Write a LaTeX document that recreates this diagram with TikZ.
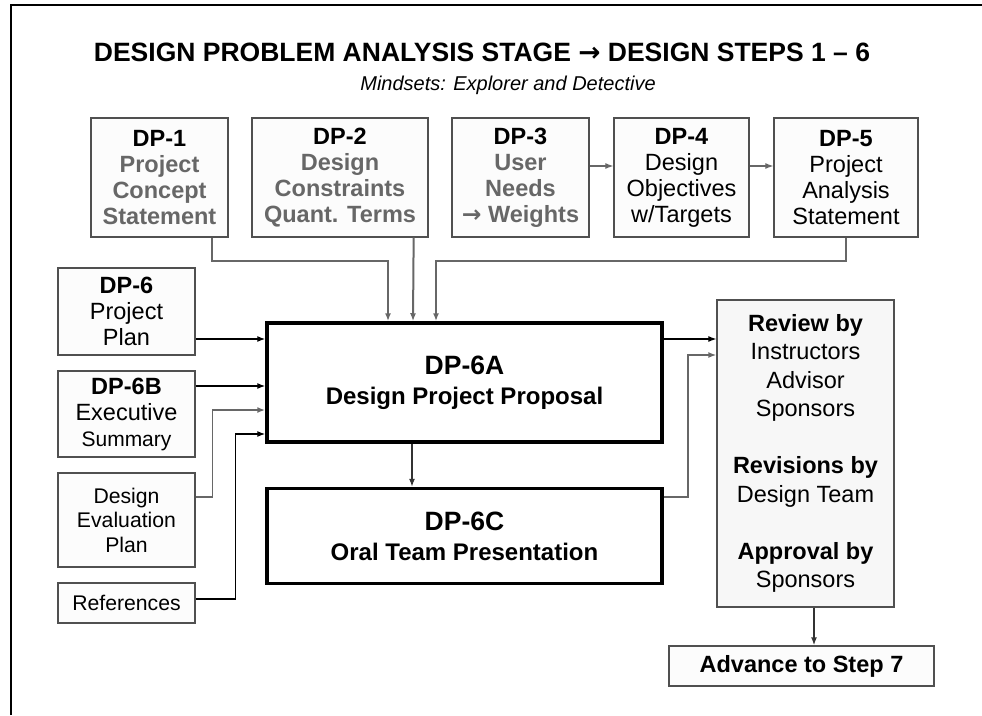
\documentclass[tikz,border=0pt]{standalone}
\usepackage{fontspec}
\setmainfont{Liberation Sans}
\newfontfamily\arrowfont{DejaVu Sans}
\usetikzlibrary{arrows.meta}

\definecolor{edgegray}{HTML}{505050}
\definecolor{textgray}{HTML}{676767}
\definecolor{boxfill}{HTML}{FCFCFC}
\newcommand{\grayline}[1]{\textcolor{textgray}{\textbf{#1}}}
\newcommand{\thickarrow}{{\arrowfont\bfseries →}}

\begin{document}
\begin{tikzpicture}[x=1pt, y=-1pt, >={Latex[length=8pt,width=6pt]},
    every node/.style={align=center, inner sep=0pt},
    stepbox/.style={draw=edgegray, line width=1.3pt, fill=boxfill,
      font=\fontsize{23.5}{26}\selectfont},
    mainbox/.style={draw=black, line width=3.5pt, fill=white,
      font=\bfseries\fontsize{24}{30}\selectfont},
    feed/.style={->, line width=1.2pt},
    grayfeed/.style={->, line width=2pt, draw=textgray}]
  \useasboundingbox (0,0) rectangle (982,715);

  % Marco
  \draw[line width=2.5pt] (11,715) -- (11,5) -- (982,5);

  % Titulo
  \node[font=\bfseries\fontsize{26.5}{30}\selectfont] (title) at (482,52)
    {DESIGN PROBLEM ANALYSIS STAGE \thickarrow{} DESIGN STEPS 1 – 6};
  \node[font=\itshape\fontsize{20}{24}\selectfont] (subtitle) at (508,85)
    {Mindsets: Explorer and Detective};

  % Pasos DP-1 a DP-5
  \node[stepbox, minimum width=137, minimum height=119] (dp1) at (159.5,177.5)
    {\textbf{DP-1}\\\grayline{Project}\\\grayline{Concept}\\\grayline{Statement}};
  \node[stepbox, minimum width=176, minimum height=119] (dp2) at (340,177.5)
    {\textbf{DP-2}\\\grayline{Design}\\\grayline{Constraints}\\\grayline{Quant. Terms}};
  \node[stepbox, minimum width=137, minimum height=119] (dp3) at (520.5,177.5)
    {\textbf{DP-3}\\\grayline{User}\\\grayline{Needs}\\\textcolor{textgray}{\thickarrow\ \textbf{Weights}}};
  \node[stepbox, minimum width=135, minimum height=119] (dp4) at (681.5,177.5)
    {\textbf{DP-4}\\Design\\Objectives\\w/Targets};
  \node[stepbox, minimum width=144, minimum height=119] (dp5) at (846,177.5)
    {\textbf{DP-5}\\Project\\Analysis\\Statement};

  % Entradas a la izquierda
  \node[stepbox, minimum width=137, minimum height=87] (dp6) at (126.5,311.5)
    {\textbf{DP-6}\\Project\\Plan};
  \node[stepbox, minimum width=137, minimum height=86] (dp6b) at (126.5,414)
    {\textbf{DP-6B}\\Executive\\{\fontsize{21}{24}\selectfont Summary}};
  \node[stepbox, minimum width=137, minimum height=94,
    font=\fontsize{21.2}{24.5}\selectfont] (evalplan) at (126.5,520)
    {Design\\Evaluation\\Plan};
  \node[stepbox, minimum width=137, minimum height=40,
    font=\fontsize{21.2}{24.5}\selectfont] (refs) at (126.5,603) {References};

  % Propuesta y presentacion
  \node[mainbox, minimum width=395, minimum height=119] (dp6a) at (464.5,382.5)
    {{\fontsize{26.5}{30}\selectfont DP-6A}\\Design Project Proposal};
  \node[mainbox, minimum width=395, minimum height=95] (dp6c) at (464.5,536)
    {{\fontsize{26.5}{30}\selectfont DP-6C}\\Oral Team Presentation};

  % Revision y avance
  \node[stepbox, minimum width=177, minimum height=307, fill=white!97!black,
    font=\fontsize{23.5}{28.5}\selectfont] (review) at (805.5,453.5)
    {\textbf{Review by}\\Instructors\\Advisor\\Sponsors\\[28.5pt]
     \textbf{Revisions by}\\Design Team\\[28.5pt]
     \textbf{Approval by}\\Sponsors};
  \node[stepbox, minimum width=265, minimum height=40,
    font=\bfseries\fontsize{23.5}{27}\selectfont] (advance) at (801.5,666)
    {Advance to Step 7};

  % Flechas superiores
  \draw[feed, draw=textgray] ([yshift=11.5pt]dp3.east) -- ([yshift=11.5pt]dp4.west);
  \draw[feed, draw=textgray] ([yshift=11.5pt]dp4.east) -- ([yshift=11.5pt]dp5.west);
  \draw[grayfeed] ([xshift=-17pt]dp1.south east) -- ++(0,23) -| ([xshift=-76.5pt]dp6a.north);
  \draw[grayfeed] ([xshift=-15pt]dp2.south east) -- ([xshift=-51.5pt]dp6a.north);
  \draw[grayfeed] (dp5.south) -- ++(0,23) -| ([xshift=-28.5pt]dp6a.north);

  % Flechas izquierdas
  \draw[feed] ([yshift=-27.5pt]dp6.east) -- ([yshift=43.5pt]dp6a.west);
  \draw[feed] ([yshift=28pt]dp6b.east) -- ([yshift=-3.5pt]dp6a.west);
  \draw[feed, draw=textgray, line width=1.6pt] ([yshift=23pt]evalplan.east) -- ++(17,0)
    |- ([yshift=-27.5pt]dp6a.west);
  \draw[feed] ([yshift=4pt]refs.east) -- ++(40,0) |- ([yshift=-51.5pt]dp6a.west);

  % Flechas derechas
  \draw[feed, draw=black!80] ([xshift=-52.5pt]dp6a.south) -- ([xshift=-52.5pt]dp6c.north);
  \draw[feed] ([yshift=43.5pt]dp6a.east) -- ([yshift=114.5pt]review.west);
  \draw[feed, draw=textgray, line width=1.6pt] ([yshift=39pt]dp6c.east) -- ++(24,0)
    |- ([yshift=98.5pt]review.west);
  \draw[feed, draw=black!80, line width=1.6pt] ([xshift=8.5pt]review.south)
    -- ([xshift=8.5pt]review.south |- advance.north);
\end{tikzpicture}
\end{document}
